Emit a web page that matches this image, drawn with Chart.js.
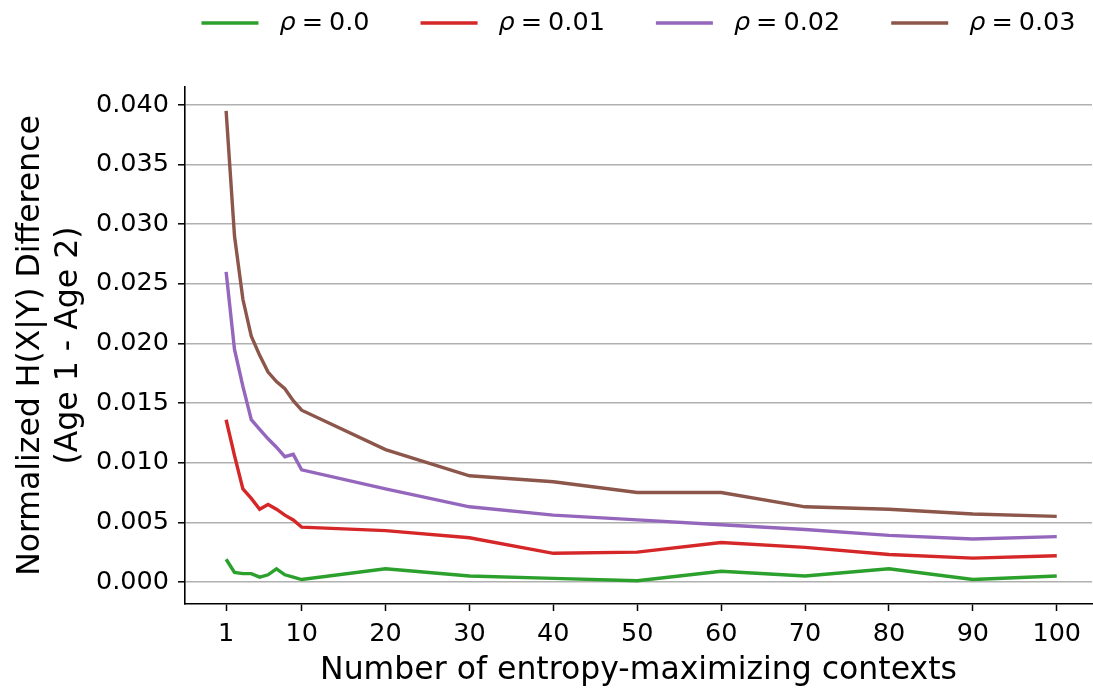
<!DOCTYPE html>
<html lang="en">
<head>
  <meta charset="UTF-8">
  <title>Normalized H(X|Y) Difference</title>
  <script src="https://cdn.jsdelivr.net/npm/chart.js"></script>
  <style>
    html, body { margin: 0; padding: 0; background: #fff; }
    #wrap { width: 1093px; height: 690px; }
  </style>
</head>
<body>
  <div id="wrap"><canvas id="chart" width="1093" height="690"></canvas></div>

  <script>
    // data
    const contexts = [1, 2, 3, 4, 5, 6, 7, 8, 9, 10, 20, 30, 40, 50, 60, 70, 80, 90, 100];
    const rho000 = [0.0019, 0.0008, 0.0007, 0.0007, 0.0004, 0.0006, 0.0011, 0.0006, 0.0004, 0.0002, 0.0011, 0.0005, 0.0003, 0.0001, 0.0009, 0.0005, 0.0011, 0.0002, 0.0005];
    const rho001 = [0.0136, 0.0106, 0.0078, 0.0070, 0.0061, 0.0065, 0.0061, 0.0056, 0.0052, 0.0046, 0.0043, 0.0037, 0.0024, 0.0025, 0.0033, 0.0029, 0.0023, 0.0020, 0.0022];
    const rho002 = [0.0260, 0.0195, 0.0164, 0.0136, 0.0128, 0.0120, 0.0113, 0.0105, 0.0107, 0.0094, 0.0078, 0.0063, 0.0056, 0.0052, 0.0048, 0.0044, 0.0039, 0.0036, 0.0038];
    const rho003 = [0.0395, 0.0290, 0.0237, 0.0206, 0.0190, 0.0176, 0.0168, 0.0162, 0.0152, 0.0144, 0.0111, 0.0089, 0.0084, 0.0075, 0.0075, 0.0063, 0.0061, 0.0057, 0.0055];

    const seriesLabels = ['0.0', '0.01', '0.02', '0.03'];
    const seriesColors = ['#2ca02c', '#d62728', '#9467bd', '#8c564b'];
    const xTicks = [1, 10, 20, 30, 40, 50, 60, 70, 80, 90, 100];
    const yTicks = [0, 0.005, 0.01, 0.015, 0.02, 0.025, 0.03, 0.035, 0.04];

    const FONT = 'DejaVu Sans';

    const toPoints = arr => arr.map((v, i) => ({ x: contexts[i], y: v }));
    const datasets = [rho000, rho001, rho002, rho003].map((arr, i) => ({
      label: 'ρ = ' + seriesLabels[i],
      data: toPoints(arr),
      borderColor: seriesColors[i],
      backgroundColor: seriesColors[i],
      borderWidth: 3.4,
      pointRadius: 0,
      tension: 0,
      fill: false
    }));

    // matplotlib-ish legend above the axes, italic rho like mathtext
    const topLegend = {
      id: 'topLegend',
      afterDraw(chart) {
        const ctx = chart.ctx;
        const area = chart.chartArea;
        const fs = 25.5;
        const swatch = 57, gapIn = 21, gapOut = 51, eqGap = 6;
        ctx.save();
        ctx.textBaseline = 'middle';
        const items = chart.data.datasets.map((ds, i) => {
          ctx.font = `italic ${fs}px "${FONT}"`;
          const wr = ctx.measureText('ρ').width;
          ctx.font = `${fs}px "${FONT}"`;
          const we = ctx.measureText('=').width;
          const wn = ctx.measureText(seriesLabels[i]).width;
          return { color: ds.borderColor, wr, we, wn, num: seriesLabels[i] };
        });
        const itemW = it => swatch + gapIn + it.wr + eqGap + it.we + eqGap + it.wn;
        let total = 0;
        items.forEach((it, i) => { total += itemW(it) + (i < items.length - 1 ? gapOut : 0); });
        let x = (area.left + area.right) / 2 - total / 2;
        const y = 23;
        items.forEach(it => {
          ctx.strokeStyle = it.color;
          ctx.lineWidth = 3.4;
          ctx.beginPath();
          ctx.moveTo(x, y);
          ctx.lineTo(x + swatch, y);
          ctx.stroke();
          x += swatch + gapIn;
          ctx.fillStyle = '#000';
          ctx.font = `italic ${fs}px "${FONT}"`;
          ctx.fillText('ρ', x, y);
          x += it.wr + eqGap;
          ctx.font = `${fs}px "${FONT}"`;
          ctx.fillText('=', x, y);
          x += it.we + eqGap;
          ctx.fillText(it.num, x, y);
          x += it.wn + gapOut;
        });
        ctx.restore();
      }
    };

    new Chart(document.getElementById('chart').getContext('2d'), {
      type: 'line',
      data: { datasets },
      options: {
        responsive: false,
        animation: false,
        layout: { padding: { top: 87, left: 0, right: 1, bottom: 0 } },
        plugins: {
          legend: { display: false },
          tooltip: { enabled: false }
        },
        scales: {
          x: {
            type: 'linear',
            min: -3.9,
            max: 104.2,
            afterBuildTicks: axis => { axis.ticks = xTicks.map(v => ({ value: v })); },
            afterFit: axis => { axis.height = 86; },
            grid: {
              display: true,
              drawOnChartArea: false,
              drawTicks: true,
              tickLength: 7,
              tickColor: '#000',
              tickWidth: 1.5
            },
            border: { display: true, color: '#000', width: 1.6 },
            ticks: {
              autoSkip: false,
              maxRotation: 0,
              padding: 8,
              color: '#000',
              font: { family: FONT, size: 25.5 }
            },
            title: {
              display: true,
              text: 'Number of entropy-maximizing contexts',
              color: '#000',
              font: { family: FONT, size: 31.5 },
              padding: { top: 0, bottom: 0 }
            }
          },
          y: {
            min: -0.00185,
            max: 0.0415,
            afterBuildTicks: axis => { axis.ticks = yTicks.map(v => ({ value: v })); },
            afterFit: axis => { axis.width = 185; },
            grid: {
              display: true,
              color: '#b0b0b0',
              lineWidth: 1.6,
              drawTicks: true,
              tickLength: 7,
              tickColor: '#000',
              tickWidth: 1.5
            },
            border: { display: true, color: '#000', width: 1.6 },
            ticks: {
              padding: 9,
              color: '#000',
              font: { family: FONT, size: 25.5 },
              callback: v => v.toFixed(3)
            },
            title: {
              display: true,
              text: ['Normalized H(X|Y) Difference', '(Age 1 - Age 2)'],
              color: '#000',
              font: { family: FONT, size: 31.5 },
              padding: { top: 12, bottom: 0 }
            }
          }
        }
      },
      plugins: [topLegend]
    });
  </script>
</body>
</html>
